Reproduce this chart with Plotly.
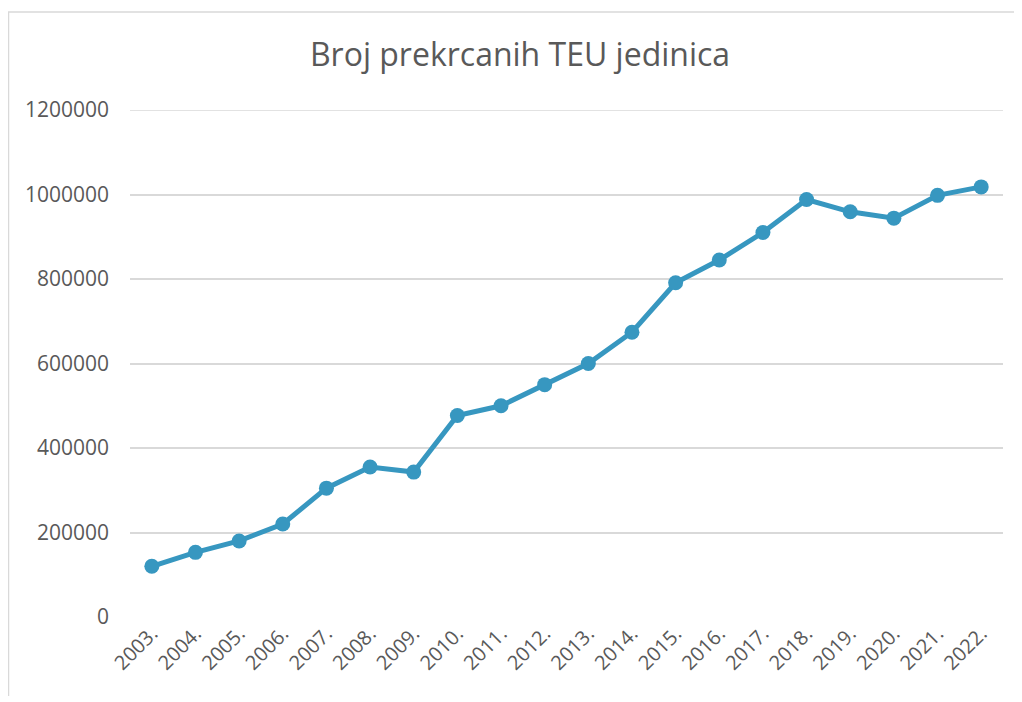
import plotly.graph_objects as go

years = ["2003.", "2004.", "2005.", "2006.", "2007.", "2008.", "2009.", "2010.", "2011.", "2012.",
         "2013.", "2014.", "2015.", "2016.", "2017.", "2018.", "2019.", "2020.", "2021.", "2022."]
teu = [120000, 153000, 180000, 220000, 305000, 355000, 343000, 477000, 500000, 550000,
       600000, 674000, 791000, 845000, 910000, 988000, 959000, 944000, 998000, 1018000]
y_ticks = [0, 200000, 400000, 600000, 800000, 1000000, 1200000]
title_text = "Broj prekrcanih TEU jedinica"

# page is rendered with an 8px body margin, so the figure is slightly smaller
W, H = 1006, 688
L, R, T, B = 122, 11, 102, 79
pw, ph = W - L - R, H - T - B

def px(x):
    return (x - L) / pw

def py(y):
    return (H - B - y) / ph

fig = go.Figure()
fig.add_trace(go.Scatter(
    x=years, y=teu, mode="lines+markers",
    line=dict(color="#3797C0", width=5),
    marker=dict(color="#3797C0", size=15),
    showlegend=False, hoverinfo="x+y",
))

fig.update_layout(
    width=W, height=H,
    margin=dict(l=L, r=R, t=T, b=B),
    paper_bgcolor="white", plot_bgcolor="white",
    font=dict(family="Open Sans", color="#595959"),
    title=dict(text=title_text, x=512 / W, xanchor="center", y=1 - 47 / H, yanchor="middle",
               font=dict(family="Open Sans", size=32, color="#595959")),
    xaxis=dict(type="category", range=[-0.5, len(years) - 0.5], tickangle=-45,
               showgrid=False, showline=False, zeroline=False, ticks="",
               tickfont=dict(size=20, color="#595959")),
    yaxis=dict(range=[0, 1200000], tickvals=y_ticks, ticktext=[str(v) for v in y_ticks],
               showgrid=True, gridcolor="#D9D9D9", gridwidth=1.5, zeroline=False,
               showline=False, ticks="", ticklabelstandoff=20,
               tickfont=dict(size=21, color="#595959")),
    shapes=[
        dict(type="rect", xref="paper", yref="paper",
             x0=px(0.5), x1=px(1040), y0=py(720), y1=py(4),
             line=dict(color="#D9D9D9", width=1.5), fillcolor="rgba(0,0,0,0)", layer="below"),
        dict(type="line", xref="paper", yref="y", x0=0, x1=1, y0=1200000, y1=1200000,
             line=dict(color="#D9D9D9", width=1.5), layer="below"),
    ],
)

fig.write_html("out.html")
